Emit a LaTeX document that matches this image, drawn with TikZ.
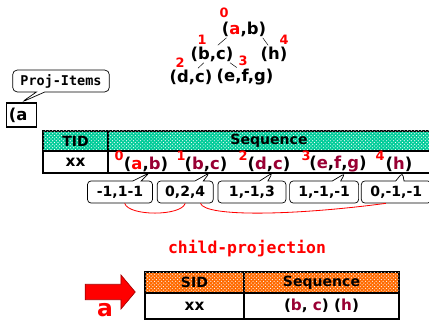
\documentclass[tikz,border=0pt]{standalone}
\usepackage{fontspec}
\setmainfont{DejaVu Sans}
\newfontfamily\monofont{DejaVu Sans Mono}
\usetikzlibrary{shapes.callouts,shapes.arrows,patterns,positioning}
\definecolor{prefred}{HTML}{FF0000}
\definecolor{itemcol}{HTML}{990033}
\definecolor{tidcol}{HTML}{00CC99}
\definecolor{sidcol}{HTML}{FF6A00}
\newcommand{\pre}[1]{\textcolor{prefred}{#1}}
\newcommand{\itm}[1]{\textcolor{itemcol}{#1}}

\begin{document}
\begin{tikzpicture}[x=0.03cm, y=-0.03cm,
  tree/.style={font=\fontsize{14}{15}\selectfont\bfseries, inner sep=1pt},
  num/.style={font=\fontsize{11}{12}\selectfont\bfseries, text=prefred, inner sep=0pt},
  cell/.style={draw, line width=1.2pt, inner sep=0pt, outer sep=0pt,
               font=\fontsize{12}{13}\selectfont\bfseries},
  thead/.style={cell, fill=tidcol, postaction={pattern=crosshatch dots, pattern color=white}},
  shead/.style={cell, fill=sidcol, postaction={pattern=crosshatch dots, pattern color=white}},
  cbox/.style={rectangle callout, draw, rounded corners=3pt, line width=0.6pt,
               minimum height=0.66cm, inner sep=2pt, font=\fontsize{12}{13}\selectfont\bfseries},
  link/.style={draw=prefred, line width=0.7pt},
  bigarrow/.style={single arrow, fill=prefred, draw=prefred!65!black, line width=0.6pt,
                   minimum height=1.5cm, inner xsep=0pt, inner ysep=0.22cm,
                   single arrow head extend=0.28cm, single arrow tip angle=100}
]
  \useasboundingbox (0,0) rectangle (429,320);

  % prefix tree
  \node[tree] (ab) at (244,29) {(\pre{a},b)};
  \node[tree] (bc) at (212,54) {(b,c)};
  \node[tree] (h) at (274,54) {(h)};
  \node[tree] (dc) at (191,77) {(d,c)};
  \node[tree] (efg) at (245,77) {(e,f,g)};
  \node[num] at (224,13) {0};
  \node[num] at (202,40) {1};
  \node[num] at (284,40) {4};
  \node[num] at (180,63) {2};
  \node[num] at (243,61) {3};
  \draw ([xshift=5pt]ab.south west) -- ([xshift=5pt]bc.north);
  \draw ([xshift=-4pt]ab.south east) -- ([xshift=-5pt]h.north);
  \draw ([xshift=-7pt]bc.south) -- ([xshift=6pt]dc.north);
  \draw ([xshift=-4pt]bc.south east) -- ([xshift=-7pt]efg.north);

  % projected items
  \node[draw, line width=1.2pt, minimum width=0.87cm, minimum height=0.72cm,
        inner sep=2pt, text width=0.75cm, font=\fontsize{14}{15}\selectfont\bfseries] (pa) at (21.5,115) {(a};
  \node[rectangle callout, draw, rounded corners=4pt, line width=0.6pt,
        minimum width=2.9cm, minimum height=0.66cm, font=\monofont\fontsize{11.5}{12}\selectfont\bfseries,
        callout absolute pointer={(pa.north)}] (proj) at (61,81) {Proj-Items};

  % sequence table
  \node[thead, minimum width=1.95cm, minimum height=0.6cm] (tidh) at (75.5,141) {TID};
  \node[thead, minimum width=9.66cm, minimum height=0.6cm, right=0pt of tidh] (seqh) {Sequence\hspace{0.66cm}};
  \node[cell, minimum width=1.95cm, minimum height=0.66cm, below=0pt of tidh, font=\fontsize{13}{14}\selectfont\bfseries] (tidv) {xx};
  \node[cell, minimum width=9.66cm, minimum height=0.66cm, below=0pt of seqh] (seqv) {};

  \node[tree] (i0) at (146,164) {(\pre{a},\itm{b})};
  \node[tree] (i1) at (206,164) {(\itm{b},\itm{c})};
  \node[tree] (i2) at (269,164) {(\itm{d},\itm{c})};
  \node[tree] (i3) at (338,164) {(\itm{e},\itm{f},\itm{g})};
  \node[tree] (i4) at (399,164) {(\itm{h})};
  \node[num] at (119,156) {0};
  \node[num] at (181,156) {1};
  \node[num] at (243,156) {2};
  \node[num] at (306,156) {3};
  \node[num] at (380,156) {4};

  % position callouts
  \node[cbox, minimum width=1.95cm, callout absolute pointer={([xshift=3pt]i0.south)}] (c1) at (120,192) {-1,1-1};
  \node[cbox, minimum width=1.68cm, right=0.12cm of c1, callout absolute pointer={([xshift=3pt]i1.south)}] (c2) {0,2,4};
  \node[cbox, minimum width=2.04cm, right=0.12cm of c2, callout absolute pointer={([xshift=3pt]i2.south)}] (c3) {1,-1,3};
  \node[cbox, minimum width=2.07cm, right=0.09cm of c3, callout absolute pointer={([xshift=6pt]i3.south)}] (c4) {1,-1,-1};
  \node[cbox, minimum width=2.1cm, right=0.06cm of c4, callout absolute pointer={([xshift=3pt]i4.south)}] (c5) {0,-1,-1};

  \draw[link] ([xshift=4pt]c1.south) .. controls +(4,13) and +(-4,13) .. (c2.south);
  \draw[link] ([xshift=13pt]c2.south) .. controls +(5,14) and +(-90,12) .. ([xshift=-9pt]c5.south);

  % child projection
  \node[font=\monofont\fontsize{14}{15}\selectfont\bfseries, text=prefred] (cp) at (247,249) {child-projection};
  \node[bigarrow] (arr) at (107,292) {};
  \node[font=\fontsize{20}{20}\selectfont\bfseries, text=prefred, inner sep=0pt] (alab) at (105,310) {a};

  \node[shead, minimum width=2.97cm, minimum height=0.63cm] (sidh) at (194.5,282.5) {SID};
  \node[shead, minimum width=4.65cm, minimum height=0.63cm, right=0pt of sidh] (seqh2) {Sequence};
  \node[cell, minimum width=2.97cm, minimum height=0.78cm, below=0pt of sidh, font=\fontsize{13}{14}\selectfont\bfseries] (sidv) {xx};
  \node[cell, minimum width=4.65cm, minimum height=0.78cm, below=0pt of seqh2, font=\fontsize{13}{14}\selectfont\bfseries] (seqv2) {(\itm{b}, \itm{c}) (\itm{h})};
\end{tikzpicture}
\end{document}
